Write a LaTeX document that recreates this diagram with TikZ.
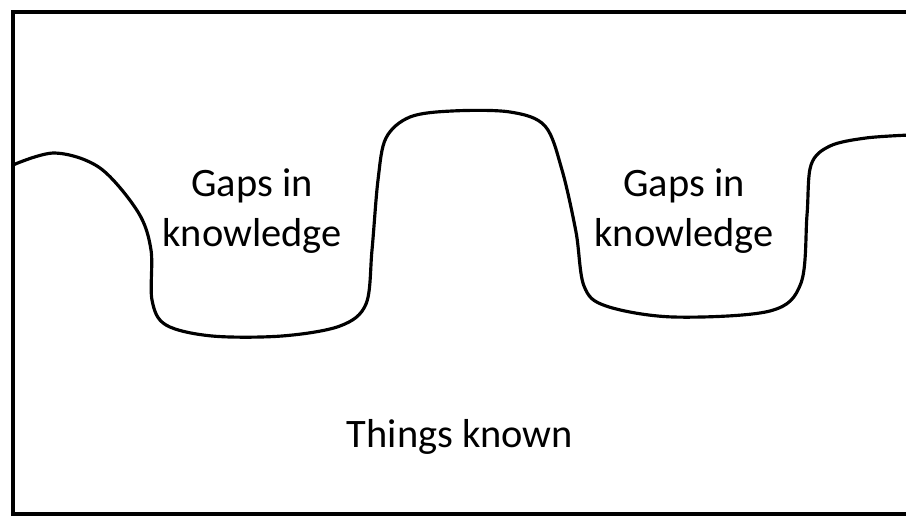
\documentclass[tikz,border=0pt]{standalone}
\usepackage{fontspec}
\setmainfont{Carlito}
\usepackage{tikz}
\usetikzlibrary{positioning}
\tikzstyle{frame} = [line width=2.3pt, color=black]
\tikzstyle{edge} = [line width=1.8pt, color=black, line join=round]
\tikzstyle{label} = [text centered, align=center, font=\fontsize{23}{28.5}\selectfont, inner sep=0pt]

\begin{document}
\begin{tikzpicture}[x=0.02cm, y=-0.02cm]
\useasboundingbox (0,0) rectangle (906,516);
\clip (0,0) rectangle (906,516);
% outer frame, open on the right
\draw[frame] (920,12) -- (13,12) -- (13,514) -- (920,514);

% boundary of what is known
\draw[edge] plot[smooth, tension=0.55] coordinates {
  (13,165) (55,153) (100,168) (138,212) (151,250) (152,300) (166,325)
  (212,336) (282,336) (340,326) (366,304) (372,250) (378,180) (386,138)
  (410,117) (452,111) (510,112) (545,126) (562,170) (576,232) (584,286)
  (606,306) (673,317) (770,311) (801,283) (807,215) (811,165) (830,146)
  (866,138) (910,135)};

\node[label] (gapone) at (252,211) {Gaps in\\knowledge};
\node[label] (gaptwo) at (684,211) {Gaps in\\knowledge};
\node[label] (known) at (460,437) {Things known};
\end{tikzpicture}
\end{document}
